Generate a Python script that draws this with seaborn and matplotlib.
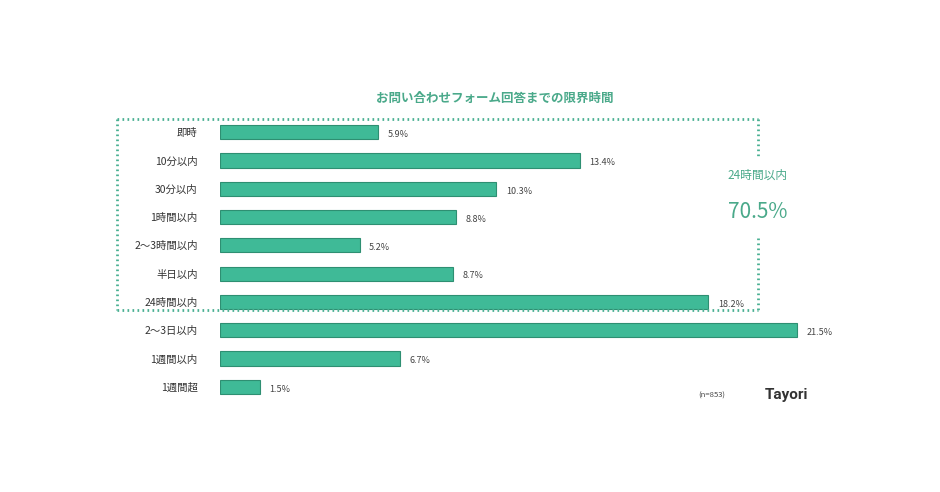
import matplotlib
matplotlib.use("Agg")
import matplotlib.pyplot as plt
import seaborn as sns
import pandas as pd
from matplotlib.lines import Line2D

categories = ["即時", "10分以内", "30分以内", "1時間以内", "2〜3時間以内", "半日以内",
              "24時間以内", "2〜3日以内", "1週間以内", "1週間超"]
values = [5.9, 13.4, 10.3, 8.8, 5.2, 8.7, 18.2, 21.5, 6.7, 1.5]
labels = ["5.9%", "13.4%", "10.3%", "8.8%", "5.2%", "8.7%", "18.2%", "21.5%", "6.7%", "1.5%"]

plt.rcParams["font.family"] = "Noto Sans CJK JP"
W, H = 940, 492
fig = plt.figure(figsize=(9.4, 4.92), dpi=100)
fig.patch.set_facecolor("white")
ax = fig.add_axes([220 / W, 1 - 401 / H, 640 / W, 283 / H])
df = pd.DataFrame({"cat": categories, "val": values})
sns.barplot(data=df, y="cat", x="val", orient="h", color="#3fba97", saturation=1,
            width=0.5, edgecolor="#2e8f72", linewidth=0.8, ax=ax)
ax.set_xlim(0, 640 / 577 * 21.5)
ax.set_ylim(9.5, -0.5)
ax.set_xlabel("")
ax.set_ylabel("")
ax.set_xticks([])
for s in ax.spines.values():
    s.set_visible(False)
ax.tick_params(axis="y", length=0, pad=16, labelsize=7.5, labelcolor="#333333")
for i, (v, t) in enumerate(zip(values, labels)):
    ax.text(v + 0.35, i + 0.08, t, va="center", ha="left", fontsize=6.5, color="#444444")

green = "#4aa98a"
fig.text(495 / W, 1 - 98 / H, "お問い合わせフォーム回答までの限界時間", ha="center", va="center",
         fontsize=9, fontweight="bold", color=green)

def seg(x0, y0, x1, y1):
    fig.add_artist(Line2D([x0 / W, x1 / W], [1 - y0 / H, 1 - y1 / H], transform=fig.transFigure,
                          color="#49b092", linewidth=2, linestyle=(0, (0.6, 1.2))))
seg(117, 119, 758, 119)
seg(117, 310, 758, 310)
seg(117, 119, 117, 310)
seg(758, 119, 758, 158)
seg(758, 238, 758, 310)

fig.text(758 / W, 1 - 175 / H, "24時間以内", ha="center", va="center", fontsize=8.5, color=green)
fig.text(758 / W, 1 - 212 / H, "70.5%", ha="center", va="center", fontsize=15, color=green)
fig.text(712 / W, 1 - 396 / H, "(n=853)", ha="center", va="center", fontsize=5.5, color="#444444")
fig.text(765 / W, 1 - 395 / H, "Tayori", ha="left", va="center", fontsize=11,
         fontweight="bold", color="#333333", family="Roboto")
fig.savefig("out.png", dpi=100)
